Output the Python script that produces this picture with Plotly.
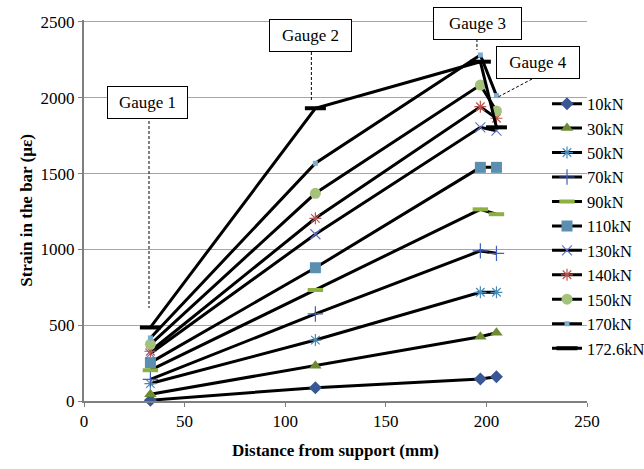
import plotly.graph_objects as go

# ---- data ----
x_mm = [33, 115, 197, 205]
series_names = ["10kN", "30kN", "50kN", "70kN", "90kN", "110kN", "130kN", "140kN", "150kN", "170kN", "172.6kN"]
s10 = [5, 88, 145, 160]
s30 = [44, 233, 424, 450]
s50 = [115, 402, 717, 717]
s70 = [143, 574, 990, 974]
s90 = [203, 732, 1264, 1232]
s110 = [253, 879, 1541, 1541]
s130 = [313, 1100, 1805, 1783]
s140 = [328, 1205, 1941, 1865]
s150 = [374, 1370, 2084, 1913]
s170 = [416, 1568, 2282, 2014]
s172 = [485, 1931, 2238, 1805]
series_vals = [s10, s30, s50, s70, s90, s110, s130, s140, s150, s170, s172]

x_ticks = [0, 50, 100, 150, 200, 250]
y_ticks = [0, 500, 1000, 1500, 2000, 2500]

gauge_labels = ["Gauge 1", "Gauge 2", "Gauge 3", "Gauge 4"]

# ---- styles ----
marker_styles = [
    dict(symbol="diamond", size=10, color="#3A5795"),
    dict(symbol="triangle-up", size=11, color="#6E8B34"),
    dict(symbol="asterisk", size=10, color="#4A8BB5", line=dict(width=1.2, color="#4A8BB5")),
    dict(symbol="cross-thin", size=11, color="#3F5FBF", line=dict(width=1.2, color="#3F5FBF")),
    dict(symbol="line-ew", size=11, color="#8DB141", line=dict(width=4, color="#8DB141")),
    dict(symbol="square", size=11, color="#5A8FB0"),
    dict(symbol="x-thin", size=10, color="#6075CC", line=dict(width=1.2, color="#6075CC")),
    dict(symbol="asterisk", size=10, color="#B85450", line=dict(width=1.2, color="#B85450")),
    dict(symbol="circle", size=11, color="#A4C27A"),
    dict(symbol="square", size=5, color="#79AED6"),
    dict(symbol="line-ew", size=15, color="#000000", line=dict(width=4, color="#000000")),
]

FONT = "Times New Roman, Tinos, Liberation Serif, DejaVu Serif, serif"

fig = go.Figure()
for name, vals, ms in zip(series_names, series_vals, marker_styles):
    fig.add_trace(go.Scatter(
        x=x_mm, y=vals, name=name, mode="lines+markers",
        line=dict(color="black", width=3),
        marker=ms,
        cliponaxis=False,
    ))

# gauge label boxes and leader lines (data coords)
box_pos = [(31.8, 1966), (112.6, 2411), (195.6, 2493), (225.6, 2230)]
box_w = [79, 81, 87, 82]
for lab, (bx, by), w in zip(gauge_labels, box_pos, box_w):
    fig.add_annotation(x=bx, y=by, xref="x", yref="y", text=lab, showarrow=False,
                       font=dict(family=FONT, size=17, color="black"),
                       bordercolor="black", borderwidth=1, bgcolor="white",
                       width=w, height=31, borderpad=0)

leaders = [((32.3, 1847), (32.3, 613)), ((113, 2302), (113, 1985)),
           ((195.3, 2388), (195.3, 2315)), ((222.7, 2124), (205.8, 2005))]
for (x0, y0), (x1, y1) in leaders:
    fig.add_shape(type="line", x0=x0, y0=y0, x1=x1, y1=y1, xref="x", yref="y",
                  line=dict(color="black", width=1, dash="3px,2px"))

fig.update_layout(
    width=644, height=469,
    margin=dict(l=84, r=57, t=20, b=68, autoexpand=False),
    paper_bgcolor="white", plot_bgcolor="white",
    font=dict(family=FONT, size=17, color="black"),
    showlegend=True,
    legend=dict(x=0.9205, y=0.8257, xanchor="left", yanchor="top",
                bgcolor="rgba(0,0,0,0)", borderwidth=0,
                font=dict(family=FONT, size=16.5, color="black"),
                itemwidth=30, tracegroupgap=0),
    xaxis=dict(range=[0, 250], tickvals=x_ticks, ticks="outside", ticklen=4,
               tickcolor="#7F7F7F", showgrid=False, zeroline=False,
               showline=True, linecolor="#7F7F7F", linewidth=2,
               tickfont=dict(family=FONT, size=17),
               title=dict(text="<b>Distance from support (mm)</b>", standoff=14,
                          font=dict(family=FONT, size=17))),
    yaxis=dict(range=[0, 2513], tickvals=y_ticks, ticks="outside", ticklen=4,
               tickcolor="#7F7F7F", showgrid=True, gridcolor="#A6A6A6", gridwidth=1,
               zeroline=False, showline=True, linecolor="#7F7F7F", linewidth=2,
               tickfont=dict(family=FONT, size=17),
               title=dict(text="<b>Strain in the bar (με)</b>", standoff=4,
                          font=dict(family=FONT, size=17))),
)

fig.write_html("out.html")
